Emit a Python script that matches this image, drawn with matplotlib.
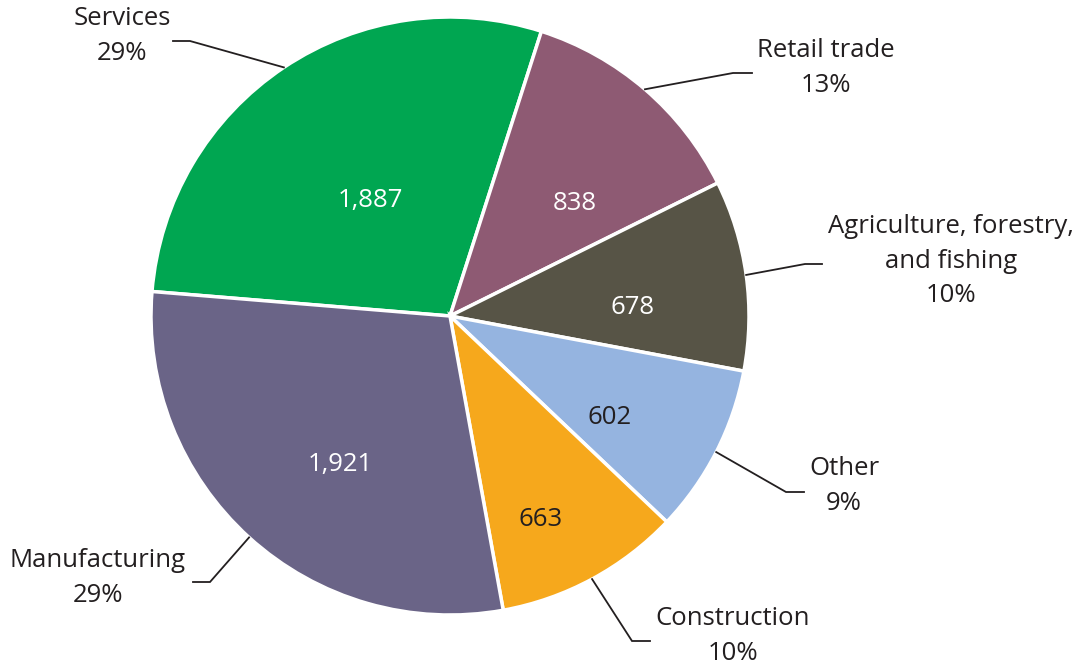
import matplotlib.pyplot as plt
import numpy as np

# Data
sectors = ["Services", "Retail trade", "Agriculture, forestry,\nand fishing",
           "Other", "Construction", "Manufacturing"]
counts = [1887, 838, 678, 602, 663, 1921]
value_labels = ["1,887", "838", "678", "602", "663", "1,921"]
pct_labels = ["29%", "13%", "10%", "9%", "10%", "29%"]

colors = ["#00a651", "#8e5a73", "#575446", "#95b4e0", "#f6a81c", "#6a6487"]
value_colors = ["white", "white", "white", "#231f20", "#231f20", "white"]

W, H = 1087, 668
plt.rcParams['font.family'] = ['Open Sans', 'DejaVu Sans']

fig = plt.figure(figsize=(W / 100, H / 100), dpi=100)
ax = fig.add_axes([0, 0, 1, 1])

cx, cy, r = 450, 316, 299
start = 175.3

# y axis is flipped, so counterclock=True draws clockwise on screen
wedges, _ = ax.pie(counts, colors=colors, startangle=-start, counterclock=True,
                   center=(cx, cy), radius=r, frame=True,
                   wedgeprops=dict(edgecolor="white", linewidth=2.5))
ax.set_xlim(0, W)
ax.set_ylim(H, 0)
ax.set_aspect('equal')
ax.axis('off')

# label layout (pixels)
value_pos = [(370, 200), (575, 204), (633, 307), (610, 418), (541, 520), (340, 465)]
elbows = [((190, 41), (173, 41)), ((733, 73), (752, 73)), ((805, 264), (822, 264)),
          ((786, 492), (804, 492)), ((632, 641), (650, 641)), ((210, 582), (193, 582))]
text_pos = [(122, 36), (826, 68), (951, 261), (844, 486), (733, 636), (98, 578)]

for i, w in enumerate(wedges):
    mid = np.deg2rad((w.theta1 + w.theta2) / 2)
    sx = cx + r * np.cos(mid)
    sy = cy + r * np.sin(mid)
    (ex, ey), (fx, fy) = elbows[i]
    ax.plot([sx, ex, fx], [sy, ey, fy], color="#231f20", lw=1.3,
            solid_joinstyle='miter')
    ax.text(*value_pos[i], value_labels[i], color=value_colors[i], fontsize=18.5,
            ha='center', va='center')
    ax.text(*text_pos[i], sectors[i] + "\n" + pct_labels[i], color="#231f20",
            fontsize=18.5, ha='center', va='center', linespacing=1.48)

fig.savefig("out.png", dpi=100)
